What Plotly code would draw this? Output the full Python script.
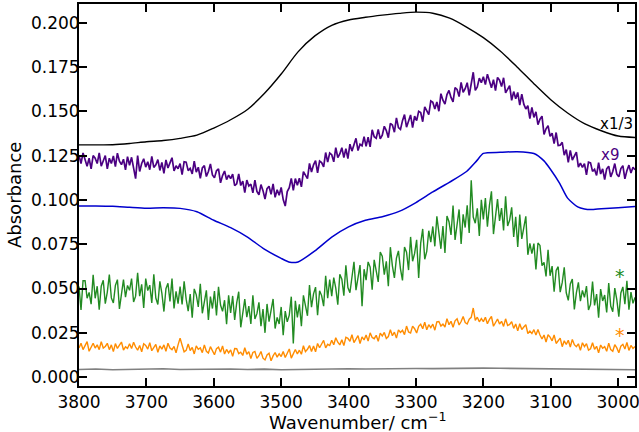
import plotly.graph_objects as go

# ---------------- data ----------------
wn_smooth = [3800, 3775, 3750, 3725, 3700, 3675, 3650, 3625, 3600, 3575, 3550, 3525,
             3500, 3475, 3450, 3425, 3400, 3375, 3350, 3325, 3300, 3275, 3250, 3225,
             3200, 3175, 3150, 3125, 3100, 3075, 3050, 3025, 3000, 2975]

black_vals = [0.1310, 0.1310, 0.1311, 0.1318, 0.1328, 0.1335, 0.1347, 0.1365, 0.1405, 0.1452,
              0.1510, 0.1600, 0.1710, 0.1835, 0.1925, 0.1985, 0.2015, 0.2030, 0.2042, 0.2052,
              0.2059, 0.2053, 0.2025, 0.1975, 0.1915, 0.1840, 0.1750, 0.1655, 0.1565, 0.1490,
              0.1430, 0.1390, 0.1360, 0.1352]

wn_blue = [3800, 3775, 3750, 3725, 3700, 3675, 3650, 3625, 3600, 3575, 3550, 3525, 3500,
           3487, 3475, 3450, 3425, 3400, 3375, 3350, 3325, 3300, 3275, 3250, 3225, 3210,
           3200, 3175, 3150, 3125, 3110, 3100, 3087, 3075, 3060, 3050, 3040, 3025, 3000, 2975]
blue_vals = [0.0966, 0.0966, 0.0964, 0.0958, 0.0953, 0.0955, 0.0952, 0.0933, 0.0885, 0.0843,
             0.0790, 0.0722, 0.0670, 0.0648, 0.0650, 0.0712, 0.0790, 0.0848, 0.0885, 0.0905,
             0.0935, 0.0985, 0.1045, 0.1100, 0.1160, 0.1220, 0.1262, 0.1268, 0.1272, 0.1262,
             0.1220, 0.1170, 0.1095, 0.1010, 0.0960, 0.0948, 0.0945, 0.0950, 0.0956, 0.0963]

# noisy spectra sampled every 3 cm-1 from 3800 down to 2975
wn_noisy = list(range(3800, 2972, -3))

purple_vals = [
    0.1250, 0.1205, 0.1265, 0.1220, 0.1190, 0.1235, 0.1175, 0.1250, 0.1235, 0.1205,
    0.1265, 0.1190, 0.1220, 0.1250, 0.1175, 0.1235, 0.1205, 0.1248, 0.1188, 0.1263,
    0.1218, 0.1199, 0.1229, 0.1169, 0.1244,
    0.1195, 0.1240, 0.1180, 0.1120, 0.1250, 0.1160, 0.1205, 0.1232, 0.1185, 0.1215,
    0.1170, 0.1245, 0.1183, 0.1198, 0.1227, 0.1166, 0.1211, 0.1150, 0.1225, 0.1180,
    0.1209, 0.1238, 0.1163, 0.1192, 0.1176,
    0.1205, 0.1143, 0.1215, 0.1213, 0.1165, 0.1178, 0.1146, 0.1218, 0.1156, 0.1184,
    0.1122, 0.1180, 0.1193, 0.1132, 0.1160, 0.1203, 0.1141, 0.1124, 0.1164, 0.1175,
    0.1096, 0.1137, 0.1163, 0.1114, 0.1140,
    0.1120, 0.1145, 0.1080, 0.1091, 0.1146, 0.1081, 0.1106, 0.1041, 0.1112, 0.1078,
    0.1089, 0.1040, 0.1111, 0.1048, 0.1029, 0.1086, 0.1052, 0.1005, 0.1063, 0.1077,
    0.1031, 0.1090, 0.1014, 0.1057, 0.1026,
    0.1070, 0.1002, 0.0965, 0.1047, 0.1069, 0.1121, 0.1053, 0.1120, 0.1083, 0.1122,
    0.1073, 0.1159, 0.1140, 0.1120, 0.1206, 0.1157, 0.1198, 0.1222, 0.1153, 0.1219,
    0.1210, 0.1186, 0.1267, 0.1213, 0.1264,
    0.1255, 0.1215, 0.1295, 0.1239, 0.1259, 0.1294, 0.1239, 0.1289, 0.1233, 0.1314,
    0.1275, 0.1311, 0.1347, 0.1278, 0.1314, 0.1305, 0.1356, 0.1302, 0.1353, 0.1299,
    0.1395, 0.1356, 0.1347, 0.1398, 0.1344,
    0.1365, 0.1415, 0.1391, 0.1351, 0.1432, 0.1422, 0.1382, 0.1463, 0.1408, 0.1398,
    0.1447, 0.1481, 0.1410, 0.1444, 0.1479, 0.1408, 0.1472, 0.1447, 0.1500, 0.1493,
    0.1441, 0.1525, 0.1503, 0.1481, 0.1558,
    0.1550, 0.1513, 0.1552, 0.1500, 0.1599, 0.1562, 0.1540, 0.1594, 0.1617, 0.1578,
    0.1553, 0.1633, 0.1623, 0.1583, 0.1663, 0.1607, 0.1627, 0.1661, 0.1590, 0.1655,
    0.1720, 0.1618, 0.1637, 0.1687, 0.1661,
    0.1695, 0.1650, 0.1709, 0.1664, 0.1633, 0.1678, 0.1617, 0.1691, 0.1675, 0.1639,
    0.1689, 0.1604, 0.1625, 0.1645, 0.1561, 0.1611, 0.1571, 0.1606, 0.1534, 0.1597,
    0.1540, 0.1513, 0.1531, 0.1459, 0.1522,
    0.1465, 0.1497, 0.1424, 0.1455, 0.1472, 0.1369, 0.1401, 0.1418, 0.1359, 0.1376,
    0.1318, 0.1380, 0.1307, 0.1308, 0.1325, 0.1252, 0.1284, 0.1212, 0.1279, 0.1225,
    0.1247, 0.1269, 0.1185, 0.1207, 0.1183,
    0.1205, 0.1141, 0.1213, 0.1209, 0.1161, 0.1172, 0.1138, 0.1210, 0.1146, 0.1175,
    0.1115, 0.1175, 0.1190, 0.1130, 0.1160, 0.1205, 0.1145, 0.1130, 0.1177, 0.1193,
    0.1119, 0.1165, 0.1196, 0.1152, 0.1184,
    0.1170]

green_vals = [
    0.0511, 0.0379, 0.0544, 0.0544, 0.0445, 0.0478, 0.0412, 0.0577, 0.0445, 0.0513,
    0.0381, 0.0513, 0.0546, 0.0414, 0.0480, 0.0579, 0.0447, 0.0418, 0.0517, 0.0550,
    0.0385, 0.0484, 0.0550, 0.0451, 0.0517,
    0.0490, 0.0556, 0.0424, 0.0457, 0.0589, 0.0457, 0.0523, 0.0391, 0.0556, 0.0488,
    0.0519, 0.0418, 0.0580, 0.0446, 0.0410, 0.0540, 0.0472, 0.0370, 0.0499, 0.0529,
    0.0427, 0.0556, 0.0388, 0.0484, 0.0415,
    0.0511, 0.0410, 0.0540, 0.0440, 0.0372, 0.0469, 0.0335, 0.0498, 0.0464, 0.0396,
    0.0527, 0.0360, 0.0425, 0.0490, 0.0323, 0.0454, 0.0387, 0.0485, 0.0348, 0.0509,
    0.0407, 0.0371, 0.0434, 0.0299, 0.0462,
    0.0362, 0.0458, 0.0323, 0.0419, 0.0482, 0.0281, 0.0377, 0.0440, 0.0338, 0.0401,
    0.0300, 0.0462, 0.0328, 0.0358, 0.0422, 0.0287, 0.0384, 0.0250, 0.0413, 0.0313,
    0.0377, 0.0441, 0.0274, 0.0337, 0.0300,
    0.0396, 0.0236, 0.0373, 0.0312, 0.0350, 0.0454, 0.0190, 0.0431, 0.0337, 0.0411,
    0.0287, 0.0461, 0.0403, 0.0346, 0.0519, 0.0395, 0.0470, 0.0508, 0.0349, 0.0487,
    0.0460, 0.0400, 0.0571, 0.0445, 0.0550,
    0.0457, 0.0562, 0.0502, 0.0409, 0.0580, 0.0553, 0.0460, 0.0631, 0.0505, 0.0476,
    0.0580, 0.0651, 0.0491, 0.0562, 0.0632, 0.0400, 0.0609, 0.0547, 0.0650, 0.0621,
    0.0493, 0.0662, 0.0600, 0.0537, 0.0705,
    0.0682, 0.0578, 0.0653, 0.0513, 0.0733, 0.0628, 0.0560, 0.0672, 0.0712, 0.0611,
    0.0546, 0.0734, 0.0705, 0.0604, 0.0791, 0.0654, 0.0698, 0.0775, 0.0560, 0.0756,
    0.0836, 0.0665, 0.0709, 0.0826, 0.0762,
    0.0850, 0.0738, 0.0907, 0.0795, 0.0724, 0.0852, 0.0700, 0.0909, 0.0877, 0.0802,
    0.0968, 0.0774, 0.0860, 0.0946, 0.0752, 0.0918, 0.0844, 0.0970, 0.0814, 0.1110,
    0.0903, 0.0868, 0.0952, 0.0797, 0.1001,
    0.0890, 0.1010, 0.0849, 0.0969, 0.1048, 0.0807, 0.0926, 0.1004, 0.0881, 0.0954,
    0.0827, 0.1020, 0.0853, 0.0886, 0.0958, 0.0791, 0.0904, 0.0734, 0.0917, 0.0780,
    0.0844, 0.0907, 0.0690, 0.0754, 0.0697,
    0.0753, 0.0607, 0.0757, 0.0743, 0.0629, 0.0648, 0.0568, 0.0718, 0.0572, 0.0626,
    0.0482, 0.0602, 0.0623, 0.0479, 0.0533, 0.0620, 0.0476, 0.0433, 0.0526, 0.0553,
    0.0382, 0.0475, 0.0535, 0.0429, 0.0489,
    0.0450, 0.0514, 0.0379, 0.0410, 0.0539, 0.0405, 0.0469, 0.0335, 0.0497, 0.0430,
    0.0463, 0.0365, 0.0531, 0.0401, 0.0369, 0.0502, 0.0437, 0.0341, 0.0475, 0.0509,
    0.0411, 0.0544, 0.0380, 0.0480, 0.0416,
    0.0450]

orange_vals = [
    0.0164, 0.0191, 0.0155, 0.0182, 0.0200, 0.0146, 0.0173, 0.0191, 0.0164, 0.0182,
    0.0155, 0.0200, 0.0164, 0.0173, 0.0191, 0.0155, 0.0182, 0.0144, 0.0189, 0.0162,
    0.0180, 0.0198, 0.0153, 0.0171, 0.0162,
    0.0188, 0.0161, 0.0197, 0.0170, 0.0152, 0.0179, 0.0143, 0.0188, 0.0179, 0.0158,
    0.0194, 0.0149, 0.0167, 0.0185, 0.0140, 0.0176, 0.0158, 0.0182, 0.0146, 0.0191,
    0.0164, 0.0155, 0.0173, 0.0137, 0.0182,
    0.0220, 0.0180, 0.0143, 0.0151, 0.0187, 0.0150, 0.0168, 0.0131, 0.0176, 0.0157,
    0.0165, 0.0138, 0.0182, 0.0146, 0.0136, 0.0172, 0.0153, 0.0126, 0.0161, 0.0169,
    0.0141, 0.0176, 0.0130, 0.0156, 0.0137,
    0.0154, 0.0117, 0.0161, 0.0160, 0.0133, 0.0141, 0.0122, 0.0166, 0.0129, 0.0144,
    0.0105, 0.0139, 0.0145, 0.0106, 0.0121, 0.0145, 0.0107, 0.0097, 0.0125, 0.0135,
    0.0092, 0.0120, 0.0139, 0.0113, 0.0132,
    0.0116, 0.0145, 0.0111, 0.0139, 0.0159, 0.0107, 0.0136, 0.0156, 0.0131, 0.0152,
    0.0129, 0.0177, 0.0144, 0.0157, 0.0178, 0.0145, 0.0176, 0.0143, 0.0190, 0.0166,
    0.0187, 0.0207, 0.0165, 0.0185, 0.0178,
    0.0208, 0.0183, 0.0222, 0.0197, 0.0182, 0.0211, 0.0178, 0.0225, 0.0219, 0.0202,
    0.0239, 0.0195, 0.0215, 0.0234, 0.0190, 0.0227, 0.0210, 0.0238, 0.0203, 0.0250,
    0.0224, 0.0217, 0.0236, 0.0202, 0.0248,
    0.0232, 0.0252, 0.0218, 0.0229, 0.0267, 0.0234, 0.0254, 0.0220, 0.0267, 0.0252,
    0.0264, 0.0240, 0.0288, 0.0255, 0.0249, 0.0288, 0.0273, 0.0249, 0.0287, 0.0298,
    0.0273, 0.0310, 0.0267, 0.0296, 0.0279,
    0.0299, 0.0265, 0.0312, 0.0314, 0.0288, 0.0299, 0.0283, 0.0330, 0.0296, 0.0315,
    0.0281, 0.0318, 0.0329, 0.0294, 0.0314, 0.0342, 0.0308, 0.0300, 0.0327, 0.0337,
    0.0390, 0.0320, 0.0338, 0.0312, 0.0330,
    0.0313, 0.0338, 0.0301, 0.0326, 0.0342, 0.0287, 0.0312, 0.0328, 0.0300, 0.0315,
    0.0286, 0.0329, 0.0291, 0.0297, 0.0313, 0.0275, 0.0300, 0.0261, 0.0301, 0.0269,
    0.0283, 0.0296, 0.0246, 0.0260, 0.0246,
    0.0268, 0.0237, 0.0269, 0.0238, 0.0215, 0.0238, 0.0198, 0.0239, 0.0226, 0.0205,
    0.0238, 0.0190, 0.0205, 0.0220, 0.0172, 0.0205, 0.0184, 0.0208, 0.0170, 0.0213,
    0.0183, 0.0172, 0.0188, 0.0151, 0.0194,
    0.0172, 0.0189, 0.0152, 0.0160, 0.0194, 0.0157, 0.0174, 0.0137, 0.0181, 0.0163,
    0.0172, 0.0146, 0.0191, 0.0155, 0.0146, 0.0183, 0.0165, 0.0138, 0.0175, 0.0185,
    0.0159, 0.0196, 0.0151, 0.0179, 0.0162,
    0.0172]

gray_vals = [0.0043, 0.0046, 0.0042, 0.0045, 0.0044, 0.0047, 0.0043, 0.0045, 0.0044, 0.0046,
             0.0043, 0.0045, 0.0042, 0.0044, 0.0046, 0.0045, 0.0047, 0.0046, 0.0048, 0.0047,
             0.0049, 0.0048, 0.0050, 0.0049, 0.0051, 0.0050, 0.0049, 0.0048, 0.0047, 0.0046,
             0.0045, 0.0044, 0.0043, 0.0042]

labels = ["x1/3", "x9", "*", "*"]
label_pos_wn = [3002, 3012, 2998, 2998]
label_pos_abs = [0.1429, 0.1254, 0.0570, 0.0240]
label_colors = ["#000000", "#4B0082", "#228B22", "#FF8C00"]
label_sizes = [15, 15, 19, 19]

x_title = "Wavenumber/ cm<sup>−1</sup>"
y_title = "Absorbance"

x_ticks = [3800, 3700, 3600, 3500, 3400, 3300, 3200, 3100, 3000]
y_ticks = [0.000, 0.025, 0.050, 0.075, 0.100, 0.125, 0.150, 0.175, 0.200]

# ---------------- figure ----------------
fig = go.Figure()
fig.add_trace(go.Scatter(x=wn_smooth, y=gray_vals, mode="lines",
                         line=dict(color="#808080", width=1.6)))
fig.add_trace(go.Scatter(x=wn_noisy, y=orange_vals, mode="lines",
                         line=dict(color="#FF8C00", width=1.4)))
fig.add_trace(go.Scatter(x=wn_noisy, y=green_vals, mode="lines",
                         line=dict(color="#228B22", width=1.4)))
fig.add_trace(go.Scatter(x=wn_blue, y=blue_vals, mode="lines",
                         line=dict(color="#0000CD", width=1.5, shape="spline", smoothing=0.6)))
fig.add_trace(go.Scatter(x=wn_noisy, y=purple_vals, mode="lines",
                         line=dict(color="#4B0082", width=1.7)))
fig.add_trace(go.Scatter(x=wn_smooth, y=black_vals, mode="lines",
                         line=dict(color="#000000", width=1.4, shape="spline", smoothing=0.8)))

for t, xw, ya, c, s in zip(labels, label_pos_wn, label_pos_abs, label_colors, label_sizes):
    fig.add_annotation(x=xw, y=ya, text=t, showarrow=False,
                       font=dict(family="DejaVu Sans", size=s, color=c))

# axis titles as paper-anchored text
fig.add_annotation(xref="paper", yref="paper", x=0.5, y=0, yanchor="middle",
                   yshift=-35, text=x_title, showarrow=False,
                   font=dict(family="DejaVu Sans", size=18, color="black"))
fig.add_annotation(xref="paper", yref="paper", x=0, y=0.5, xanchor="center",
                   xshift=-65, text=y_title, textangle=-90, showarrow=False,
                   font=dict(family="DejaVu Sans", size=18, color="black"))

axis_common = dict(showline=True, linecolor="black", linewidth=2, mirror="ticks",
                   ticks="inside", ticklen=8, tickwidth=1.5, tickcolor="black",
                   showgrid=False, zeroline=False, automargin=False,
                   ticklabeloverflow="allow")

fig.update_xaxes(range=[3800, 2975], tickvals=x_ticks,
                 tickfont=dict(family="DejaVu Sans", size=17, color="black"),
                 **axis_common)
fig.update_yaxes(range=[-0.005, 0.2105], tickvals=y_ticks, tickformat=".3f",
                 ticklabelstandoff=-6,
                 tickfont=dict(family="DejaVu Sans", size=17, color="black"),
                 **axis_common)

fig.update_layout(width=639, height=432, showlegend=False,
                  margin=dict(l=79, r=4, t=4, b=46),
                  plot_bgcolor="white", paper_bgcolor="white")

fig.write_html("out.html", config={"displayModeBar": False},
               post_script="document.body.style.margin='0';document.body.style.padding='0';")
